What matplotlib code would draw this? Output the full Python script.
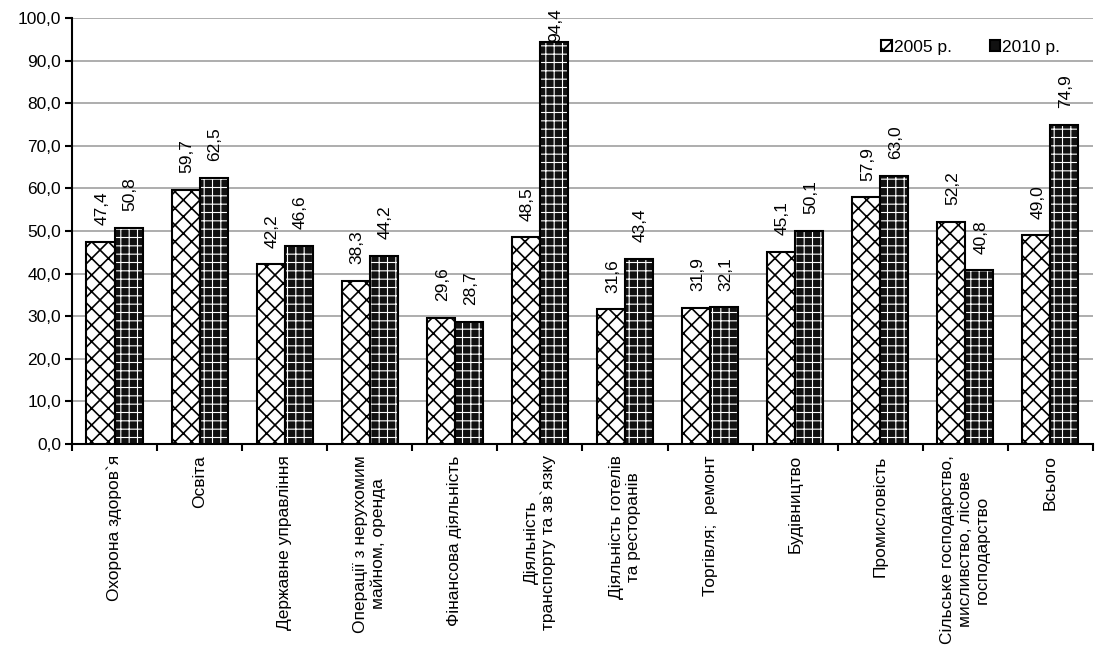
import matplotlib
matplotlib.use('Agg')
import matplotlib.pyplot as plt
from matplotlib.patches import Patch
from matplotlib.ticker import FuncFormatter, FixedLocator
import numpy as np

plt.rcParams['font.family'] = ['Liberation Sans', 'DejaVu Sans']
plt.rcParams['hatch.linewidth'] = 1.2

categories = ["Охорона здоров`я", "Освіта", "Державне управління",
              "Операції з нерухомим\nмайном, оренда", "Фінансова діяльність",
              "Діяльність\nтранспорту та зв`язку", "Діяльність готелів\nта ресторанів",
              "Торгівля;  ремонт", "Будівництво", "Промисловість",
              "Сільське господарство,\nмисливство, лісове\nгосподарство", "Всього"]
y2005 = [47.4, 59.7, 42.2, 38.3, 29.6, 48.5, 31.6, 31.9, 45.1, 57.9, 52.2, 49.0]
y2010 = [50.8, 62.5, 46.6, 44.2, 28.7, 94.4, 43.4, 32.1, 50.1, 63.0, 40.8, 74.9]
series_names = ["2005 р.", "2010 р."]

fig = plt.figure(figsize=(10.98, 6.53), dpi=100)
ax = fig.add_axes([0.0656, 0.32, 0.9298, 0.6524])

x = np.arange(len(categories))
w = 0.33
fs = 12.5

# 2005: white with black cross hatch
ax.bar(x - w / 2, y2005, w, facecolor='white', edgecolor='black', hatch='xx', linewidth=0, zorder=3)
ax.bar(x - w / 2, y2005, w, facecolor='none', edgecolor='black', linewidth=1.5, zorder=4)
# 2010: black with white plus pattern
ax.bar(x + w / 2, y2010, w, facecolor='#111111', edgecolor='#111111', linewidth=0, zorder=3)
with plt.rc_context({'hatch.linewidth': 0.8}):
    ax.bar(x + w / 2, y2010, w, facecolor='none', edgecolor='white', hatch='++', linewidth=0, zorder=3.5)
ax.bar(x + w / 2, y2010, w, facecolor='none', edgecolor='black', linewidth=1.5, zorder=4)

def fmt(v):
    return f"{v:.1f}".replace('.', ',')

for xs, ys in [(x - w / 2, y2005), (x + w / 2, y2010)]:
    for xi, v in zip(xs, ys):
        off = 12 if v < 85 else 0
        ax.annotate(fmt(v), (xi, v), xytext=(1, off), textcoords='offset points',
                    rotation=90, ha='center', va='bottom', fontsize=fs, annotation_clip=False)

ax.set_xlim(-0.5, len(categories) - 0.5)
ax.set_ylim(0, 100)
ax.set_yticks(np.arange(0, 101, 10))
ax.yaxis.set_major_formatter(FuncFormatter(lambda v, p: fmt(v)))
ax.tick_params(axis='y', labelsize=fs, length=5, width=1.5, colors='black', pad=3)
ax.yaxis.grid(True, color='#a0a0a0', linewidth=1.2, zorder=0)
ax.set_axisbelow(True)

ax.set_xticks(x)
ax.set_xticklabels(categories, rotation=90, ha='center', va='top', fontsize=fs,
                   multialignment='center')
ax.tick_params(axis='x', length=0, pad=8)
ax.xaxis.set_minor_locator(FixedLocator(np.arange(-0.5, len(categories), 1)))
ax.tick_params(axis='x', which='minor', length=5, width=1.5, direction='out')

for s in ['top', 'right']:
    ax.spines[s].set_visible(False)
ax.spines['left'].set_linewidth(1.5)
ax.spines['bottom'].set_linewidth(1.5)

handles = [Patch(facecolor='white', edgecolor='black', hatch='xx', linewidth=1.5),
           Patch(facecolor='#111111', edgecolor='black', linewidth=1.5)]
leg = ax.legend(handles, series_names, loc='upper right', bbox_to_anchor=(0.983, 0.985),
                ncol=2, frameon=False, fontsize=fs, handlelength=0.6, handleheight=0.6,
                handletextpad=0.1, columnspacing=2.2)

fig.savefig('out.png', dpi=100)
